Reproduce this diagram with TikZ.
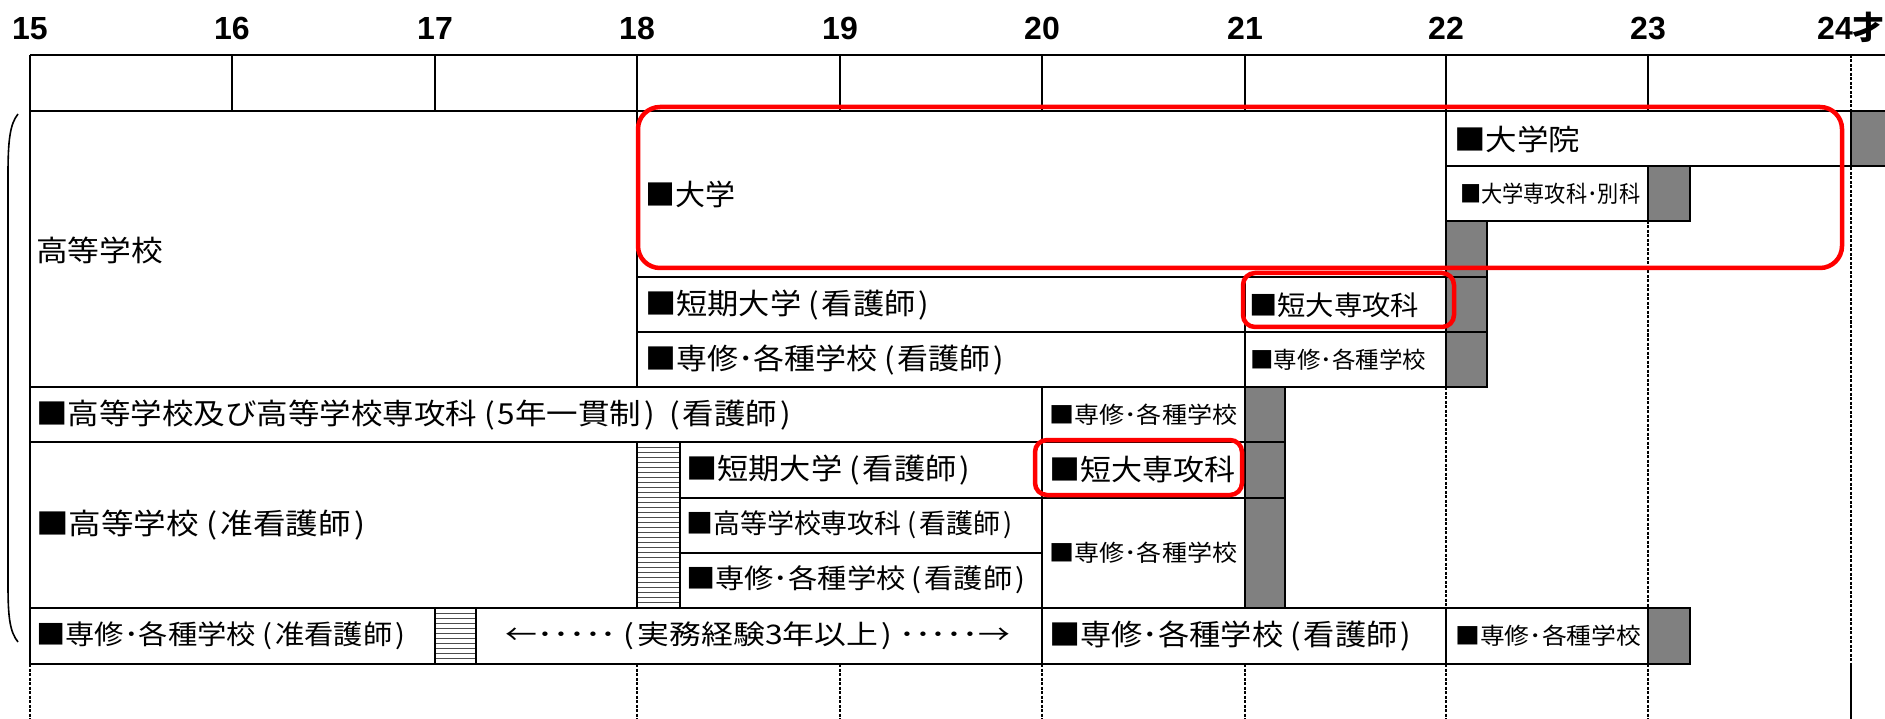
\documentclass[tikz,border=0pt]{standalone}
\usepackage{fontspec}
\usepackage{graphicx}
\setmainfont{Noto Sans CJK JP}
\newfontfamily\numfont{Liberation Sans}
\newfontfamily\cjkb{Noto Sans CJK JP}
\definecolor{boxgray}{RGB}{128,128,128}
\definecolor{hred}{RGB}{255,0,0}
\newcommand{\lb}[2]{\resizebox{#1pt}{\height}{#2}}
\newcommand{\lp}{\hspace{0.22em}(\hspace{0.1em}}
\newcommand{\rp}{\hspace{0.1em})}
\newcommand{\rpm}{\hspace{0.1em})\hspace{0.22em}}
\begin{document}
\begin{tikzpicture}[x=1pt,y=-1pt,
  box/.style={draw=black,line width=2.6pt,fill=white},
  gbox/.style={draw=black,line width=2.6pt,fill=boxgray},
  hbox/.style={draw=black,line width=2pt,fill=white},
  lbl/.style={anchor=west,inner sep=0pt,font=\fontsize{29}{29}\selectfont},
  mlbl/.style={anchor=west,inner sep=0pt,font=\fontsize{27}{27}\selectfont},
  slbl/.style={anchor=west,inner sep=0pt,font=\fontsize{23}{23}\selectfont},
  num/.style={anchor=base,inner sep=0pt,font=\numfont\bfseries\fontsize{32}{32}\selectfont},
  gridline/.style={line width=1.2pt,dash pattern=on 3pt off 1.5pt},
  redbox/.style={draw=hred,line width=4.5pt}]
\useasboundingbox (0,0) rectangle (1885,719);
\clip (0,0) rectangle (1885,719);
% dashed guide lines
\foreach \x in {30,637,840,1042,1245,1446,1648,1851}
  \draw[gridline] (\x,664) -- (\x,719);
\draw[gridline] (1446,387) -- (1446,608);
\draw[gridline] (1648,221) -- (1648,608);
\draw[gridline] (1851,55) -- (1851,719);
% header
\draw[line width=2.8pt] (30,55) -- (1895,55);
\draw[line width=2.8pt] (30,111) -- (1895,111);
\draw[line width=2.8pt] (30,55) -- (30,111);
\foreach \x in {232,435,637,840,1042,1245,1446,1648}
  \draw[line width=2.2pt] (\x,55) -- (\x,111);
% numbers
\node[num] (n15) at (30,40) {15};
\node[num] (n16) at (232,40) {16};
\node[num] (n17) at (435,40) {17};
\node[num] (n18) at (637,40) {18};
\node[num] (n19) at (840,40) {19};
\node[num] (n20) at (1042,40) {20};
\node[num] (n21) at (1245,40) {21};
\node[num] (n22) at (1446,40) {22};
\node[num] (n23) at (1648,40) {23};
\node[num] (n24) at (1851,40) {24{\cjkb\bfseries 才}};
% boxes
\draw[box] (30,111) rectangle (637,387);
\draw[box] (637,111) rectangle (1446,277);
\draw[box] (1446,111) rectangle (1851,166);
\draw[gbox] (1851,111) rectangle (1900,166);
\draw[box] (1446,166) rectangle (1648,221);
\draw[gbox] (1648,166) rectangle (1690,221);
\draw[gbox] (1446,221) rectangle (1487,277);
\draw[gbox] (1446,277) rectangle (1487,332);
\draw[gbox] (1446,332) rectangle (1487,387);
\draw[box] (637,277) rectangle (1245,332);
\draw[box] (1245,277) rectangle (1446,332);
\draw[box] (637,332) rectangle (1245,387);
\draw[box] (1245,332) rectangle (1446,387);
\draw[box] (30,387) rectangle (1042,442);
\draw[box] (1042,387) rectangle (1245,442);
\draw[gbox] (1245,387) rectangle (1285,442);
\draw[gbox] (1245,442) rectangle (1285,498);
\draw[gbox] (1245,498) rectangle (1285,608);
\draw[box] (30,442) rectangle (637,608);
\draw[box] (680,442) rectangle (1042,498);
\draw[box] (1042,442) rectangle (1245,498);
\draw[box] (680,498) rectangle (1042,553);
\draw[box] (680,553) rectangle (1042,608);
\draw[box] (1042,498) rectangle (1245,608);
\draw[box] (30,608) rectangle (435,664);
\draw[box] (476,608) rectangle (1042,664);
\draw[box] (1042,608) rectangle (1446,664);
\draw[box] (1446,608) rectangle (1648,664);
\draw[gbox] (1648,608) rectangle (1690,664);
% hatched blocks
\draw[hbox] (637,442) rectangle (680,608);
\foreach \y in {447,452,...,604}
  \draw[line width=0.8pt,black!70] (638,\y) -- (679,\y);
\draw[hbox] (435,608) rectangle (476,664);
\foreach \y in {613,618,...,660}
  \draw[line width=0.8pt,black!70] (436,\y) -- (475,\y);
\draw[line width=2.4pt] (637,442) rectangle (680,608);
\draw[line width=2.4pt] (435,608) rectangle (476,664);
% labels
\node[lbl] (koko) at (36,250) {\lb{127}{高等学校}};
\node[lbl] (daigaku) at (645,194) {\lb{90}{■大学}};
\node[lbl] (daigakuin) at (1454,139) {\lb{126}{■大学院}};
\node[slbl] (senkobekka) at (1460,194) {\lb{180}{■大学専攻科･別科}};
\node[lbl] (tanki1) at (645,305) {\lb{284}{■短期大学\lp 看護師\rp}};
\node[mlbl] (tansen1) at (1249,305) {\lb{170}{■短大専攻科}};
\node[lbl] (senshu1) at (645,360) {\lb{359}{■専修･各種学校\lp 看護師\rp}};
\node[slbl] (senshu2) at (1250,360) {\lb{176}{■専修･各種学校}};
\node[lbl] (ikkan) at (36,415) {\lb{755}{■高等学校及び高等学校専攻科\lp 5年一貫制\rpm\lp 看護師\rp}};
\node[slbl] (senshu3) at (1049,415) {\lb{188}{■専修･各種学校}};
\node[lbl] (junkoko) at (36,525) {\lb{329}{■高等学校\lp 准看護師\rp}};
\node[lbl] (tanki2) at (686,470) {\lb{284}{■短期大学\lp 看護師\rp}};
\node[lbl] (tansen2) at (1049,470) {\lb{186}{■短大専攻科}};
\node[mlbl] (kosen) at (686,525) {\lb{326}{■高等学校専攻科\lp 看護師\rp}};
\node[mlbl] (senshu4) at (686,580) {\lb{339}{■専修･各種学校\lp 看護師\rp}};
\node[slbl] (senshu5) at (1049,553) {\lb{188}{■専修･各種学校}};
\node[mlbl] (senshu6) at (36,636) {\lb{369}{■専修･各種学校\lp 准看護師\rp}};
\node[anchor=center,inner sep=0pt,font=\fontsize{27}{27}\selectfont] (jitsumu) at (758,636) {\lb{505}{←･････\lp 実務経験3年以上\rpm･････→}};
\node[lbl] (senshu7) at (1049,636) {\lb{362}{■専修･各種学校\lp 看護師\rp}};
\node[slbl] (senshu8) at (1455,636) {\lb{186}{■専修･各種学校}};
% red highlights
\draw[redbox,rounded corners=22pt] (638,107) rectangle (1842,268);
\draw[redbox,rounded corners=12pt] (1243,273) rectangle (1454,327);
\draw[redbox,rounded corners=12pt] (1035,440) rectangle (1242,495);
% brace
\draw[line width=1.6pt] (18,114) .. controls (10,124) and (8,140) .. (8,175) -- (8,585) .. controls (8,618) and (10,632) .. (18,642);
\end{tikzpicture}
\end{document}
